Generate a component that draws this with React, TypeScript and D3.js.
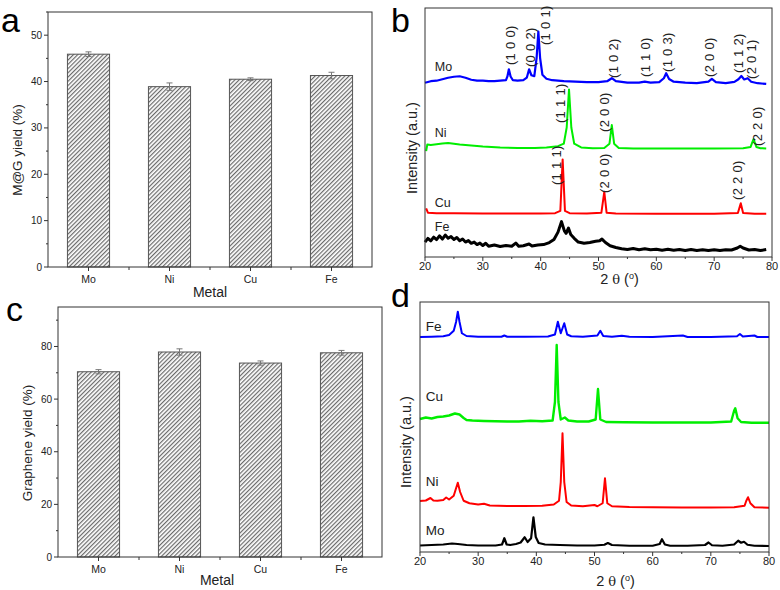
import React from 'react';
import * as d3 from 'd3';

// ---------- data ----------
const metals = ['Mo', 'Ni', 'Cu', 'Fe'];
const mgYield = [45.9, 38.9, 40.5, 41.3];
const mgErr = [0.5, 0.8, 0.3, 0.7];
const grYield = [70.4, 77.9, 73.7, 77.6];
const grErr = [0.8, 1.2, 0.8, 0.9];
const mgTicks = [0, 10, 20, 30, 40, 50];
const grTicks = [0, 20, 40, 60, 80];
const thetaTicks = [20, 30, 40, 50, 60, 70, 80];

// panel b: XRD of M@G (2theta, intensity a.u.)
const bMo = [[20, 70.0], [21, 70.6], [22, 70.8], [23, 71.4], [24, 72.0], [25, 72.4], [26, 72.6], [27, 72.0], [28, 71.2], [29, 70.8], [30, 70.8], [31, 70.6], [32, 70.6], [33, 70.8], [34, 71.0], [34.25, 72.5], [34.5, 75.4], [34.8, 72.5], [35.2, 71.0], [36, 70.8], [37, 71.0], [37.6, 72.0], [38.0, 75.4], [38.4, 73.0], [38.9, 72.6], [39.3, 80], [39.6, 90.5], [39.9, 80], [40.3, 73.2], [41, 71.6], [42, 71.0], [44, 70.6], [46, 70.4], [48, 70.2], [50, 70.2], [51.5, 70.6], [52.3, 71.8], [53, 70.6], [55, 70.0], [57, 70.0], [58, 70.4], [59, 70.0], [60.5, 70.2], [61.3, 71.8], [61.7, 73.8], [62.2, 71.5], [63, 70.4], [65, 70.0], [67, 69.8], [69, 70.4], [69.6, 71.5], [70.3, 70.2], [72, 69.8], [73.5, 70.3], [74.2, 71.4], [74.7, 72.7], [75.2, 71.3], [75.8, 71.8], [76.4, 70.4], [77.5, 69.8], [79, 69.5]];
const bNi = [[20.2, 42.5], [20.4, 45.2], [21, 45.0], [22, 45.3], [23, 45.6], [24, 45.8], [25, 45.5], [26, 45.2], [28, 44.8], [30, 44.4], [33, 44.0], [36, 43.8], [39, 43.8], [41, 44.0], [43, 44.5], [44, 45.5], [44.5, 52], [44.9, 67.3], [45.3, 52], [45.8, 45.5], [47, 44.0], [49, 43.7], [51, 43.8], [51.9, 45.5], [52.3, 53], [52.7, 45.5], [53.5, 43.8], [56, 43.6], [60, 43.6], [65, 43.6], [70, 43.6], [75, 43.7], [76.3, 44.2], [76.8, 47.3], [77.3, 44.2], [78, 43.7], [79, 43.6]];
const bCu = [[20.2, 19.5], [20.5, 17.8], [22, 17.6], [25, 17.6], [30, 17.5], [35, 17.5], [40, 17.5], [42.5, 17.6], [43.4, 18.5], [43.8, 39.2], [44.2, 18.5], [45, 17.6], [48, 17.5], [50.5, 17.8], [51.0, 26.2], [51.4, 17.8], [53, 17.5], [60, 17.4], [70, 17.4], [74.1, 17.7], [74.6, 21.6], [75.0, 17.7], [77, 17.4], [79, 17.4]];
const bFe = [[20, 6.0], [20.5, 7.5], [21, 6.5], [21.5, 8.0], [22, 7.0], [22.5, 8.5], [23, 7.2], [23.5, 8.8], [24, 7.5], [24.5, 8.2], [25, 7.0], [25.5, 7.8], [26, 6.5], [26.5, 7.2], [27, 6.0], [27.5, 6.6], [28, 5.5], [28.5, 6.0], [29, 5.0], [29.5, 5.6], [30, 4.6], [30.5, 5.5], [31, 4.3], [32, 4.8], [33, 4.2], [34, 4.6], [35, 4.3], [35.7, 5.6], [36.2, 4.3], [37, 4.5], [38, 5.2], [38.5, 4.4], [39.5, 4.8], [40.5, 5.0], [41.5, 5.8], [42.3, 7.0], [43.0, 10.0], [43.6, 14.2], [44.1, 10.5], [44.4, 9.5], [44.8, 11.6], [45.2, 9.0], [45.8, 7.5], [46.5, 6.0], [47.5, 5.5], [48.5, 5.8], [49.5, 6.3], [50.2, 6.5], [50.6, 7.2], [51.2, 5.8], [52, 4.5], [53, 3.8], [54, 3.3], [55, 3.0], [56, 3.4], [57, 2.9], [58, 3.3], [59, 2.9], [60, 3.1], [61, 2.7], [62, 3.1], [63, 2.7], [64, 3.0], [65, 2.6], [66, 3.0], [67, 2.6], [68, 2.9], [69, 2.6], [70, 2.9], [71, 2.6], [72, 2.9], [73, 2.8], [74, 3.6], [74.5, 4.3], [75, 3.6], [76, 2.8], [77, 3.0], [78, 2.6], [79, 3.0]];

// panel d: XRD of graphene
const dFe = [[20, 86.0], [22, 86.1], [24, 86.3], [25, 86.8], [25.8, 88.5], [26.2, 92], [26.5, 96.1], [26.8, 92], [27.2, 87.5], [28, 86.4], [30, 86.1], [34, 86.1], [34.5, 86.6], [35, 86.1], [38, 86.1], [42, 86.2], [43.2, 87.0], [43.7, 92.1], [44.2, 87.5], [44.8, 91.5], [45.3, 87.0], [46, 86.3], [48, 86.1], [50.5, 86.6], [51, 88.5], [51.5, 86.4], [53, 86.1], [54.7, 86.5], [56, 86.1], [60, 86.0], [65.2, 86.6], [66, 86.0], [70, 86.0], [74.5, 86.3], [75, 87.2], [75.5, 86.2], [77.5, 86.6], [78, 86.0], [80, 86.0]];
const dCu = [[20, 53.2], [21, 53.8], [22, 53.4], [23, 54.0], [24, 54.2], [25, 54.6], [26, 55.4], [26.8, 55.0], [27.5, 53.6], [28, 52.8], [29, 52.6], [31, 52.4], [33, 52.3], [35, 52.2], [37, 52.2], [39, 52.5], [41, 52.3], [42.8, 52.6], [43.2, 60], [43.5, 82.8], [43.8, 60], [44.2, 53.0], [44.9, 53.8], [45.5, 52.6], [47, 52.2], [49, 52.2], [50.2, 53.0], [50.6, 65.2], [51.0, 53.0], [52, 52.0], [55, 51.9], [60, 51.8], [65, 51.8], [70, 51.8], [73.5, 52.2], [74.0, 56.5], [74.2, 57.5], [74.6, 53.5], [75.2, 52.0], [77, 51.7], [80, 51.7]];
const dNi = [[20, 20.4], [21, 20.6], [21.8, 21.6], [22.3, 20.6], [23, 20.5], [24, 20.8], [24.5, 21.8], [25, 21.0], [25.8, 22.5], [26.2, 25.5], [26.5, 27.7], [26.9, 24], [27.5, 20.5], [28.5, 19.5], [30, 19.0], [31, 19.3], [32, 18.6], [35, 18.4], [38, 18.4], [41, 18.5], [43, 19.0], [43.9, 20.5], [44.2, 28], [44.5, 47.5], [44.8, 28], [45.2, 20.0], [46, 18.6], [48, 18.3], [50, 18.8], [50.5, 18.3], [51.4, 19.5], [51.8, 29.5], [52.2, 19.5], [53, 18.3], [56, 18.0], [60, 17.9], [65, 17.8], [70, 17.8], [74, 17.9], [75.8, 18.5], [76.1, 20.5], [76.4, 21.9], [76.8, 19.5], [77.5, 17.9], [80, 17.7]];
const dMo = [[20, 2.6], [22, 2.8], [24, 3.0], [25.5, 3.4], [26.5, 3.2], [28, 2.8], [30, 2.6], [33, 2.6], [34.1, 3.0], [34.5, 5.5], [34.9, 3.0], [35.5, 2.8], [36.5, 3.2], [37.3, 3.8], [38, 5.9], [38.5, 4.0], [39.1, 5.5], [39.5, 13.9], [39.9, 6.0], [40.4, 3.6], [41.5, 3.0], [44, 2.8], [47, 2.6], [50, 2.6], [51.7, 2.9], [52.3, 3.6], [53, 2.8], [56, 2.5], [60, 2.5], [61.2, 3.2], [61.6, 5.1], [62.1, 3.0], [63, 2.5], [66, 2.5], [69, 2.8], [69.6, 3.8], [70.2, 2.7], [72, 2.5], [74, 3.0], [74.7, 4.5], [75.2, 3.7], [75.7, 4.1], [76.3, 2.9], [77.5, 2.5], [80, 2.4]];

// Miller index annotations for panel b: [text, 2theta, intensity at text start]
const millerB: [string, number, number][] = [
  ['(1 0 0)', 34.8, 77.1], ['(0 0 2)', 38.3, 76.3], ['(1 0 1)', 40.8, 85.1],
  ['(1 0 2)', 52.5, 71.9], ['(1 1 0)', 58.1, 72.3], ['(1 0 3)', 62.0, 74.3],
  ['(2 0 0)', 69.1, 72.3], ['(1 1 2)', 74.2, 73.9], ['(2 0 1)', 76.4, 71.5],
  ['(1 1 1)', 43.4, 53.8], ['(2 0 0)', 51.1, 50.2], ['(2 2 0)', 77.4, 44.6],
  ['(1 1 1)', 42.7, 28.9], ['(2 0 0)', 51.1, 25.7], ['(2 2 0)', 74.0, 22.9],
];
const traceLabelsB: [string, number, number][] = [['Mo', 21.7, 76.3], ['Ni', 21.7, 49.8], ['Cu', 21.7, 21.7], ['Fe', 21.7, 12.0]];
const traceLabelsD: [string, number, number][] = [['Fe', 21.0, 90.1], ['Cu', 21.0, 62.4], ['Ni', 21.0, 28.1], ['Mo', 21.0, 8.5]];

const FONT = "'Liberation Sans', Arial, Helvetica, sans-serif";

type Box = { l: number; r: number; t: number; b: number };

function BarPanel(p: Box & {
  values: number[]; errs: number[]; yMax: number; ticks: number[]; minor: number;
  yLabel: string; yLabelX: number; yLabelY: number; xLabelX: number; xLabelY: number;
}) {
  const x = d3.scaleBand<string>().domain(metals).range([p.l, p.r]).paddingInner(0.48).paddingOuter(0.24);
  const y = d3.scaleLinear().domain([0, p.yMax]).range([p.b, p.t]);
  const minorTicks = d3.range(0, p.yMax + 1e-6, p.minor).filter(v => !p.ticks.includes(v));
  const step = x.step();
  const bounds = d3.range(1, metals.length).map(i => p.l + i * step);
  return (
    <g>
      {metals.map((m, i) => {
        const x0 = x(m)!;
        const w = x.bandwidth();
        const yv = y(p.values[i]);
        const cx = x0 + w / 2;
        const e0 = y(p.values[i] - p.errs[i]);
        const e1 = y(p.values[i] + p.errs[i]);
        return (
          <g key={m}>
            <rect x={x0} y={yv} width={w} height={p.b - yv} fill="url(#hatch)" stroke="#555" strokeWidth={1} />
            <g stroke="#777" strokeWidth={1}>
              <line x1={cx} x2={cx} y1={e0} y2={e1} />
              <line x1={cx - 3} x2={cx + 3} y1={e0} y2={e0} />
              <line x1={cx - 3} x2={cx + 3} y1={e1} y2={e1} />
            </g>
          </g>
        );
      })}
      <rect x={p.l} y={p.t} width={p.r - p.l} height={p.b - p.t} fill="none" stroke="#333" strokeWidth={1} />
      {p.ticks.map(v => (
        <g key={v}>
          <line x1={p.l - 4} x2={p.l} y1={y(v)} y2={y(v)} stroke="#333" />
          <text x={p.l - 6} y={y(v)} dy="0.35em" textAnchor="end" fontSize={10} fontFamily={FONT} fill="#222">{v}</text>
        </g>
      ))}
      {minorTicks.map(v => <line key={'m' + v} x1={p.l - 2} x2={p.l} y1={y(v)} y2={y(v)} stroke="#333" />)}
      {metals.map(m => {
        const cx = x(m)! + x.bandwidth() / 2;
        return (
          <g key={'t' + m}>
            <line x1={cx} x2={cx} y1={p.b} y2={p.b + 4} stroke="#333" />
            <text x={cx} y={p.b + 16} textAnchor="middle" fontSize={10.5} fontFamily={FONT} fill="#222">{m}</text>
          </g>
        );
      })}
      {bounds.map(bx => <line key={'b' + bx} x1={bx} x2={bx} y1={p.b} y2={p.b + 3} stroke="#333" />)}
      <text x={p.xLabelX} y={p.xLabelY} textAnchor="middle" fontSize={14} fontFamily={FONT} fill="#222">Metal</text>
      <text transform={`translate(${p.yLabelX},${p.yLabelY}) rotate(-90)`} textAnchor="middle" dy="0.35em" fontSize={13.5} fontFamily={FONT} fill="#222">{p.yLabel}</text>
    </g>
  );
}

function XrdPanel(p: Box & {
  traces: { data: number[][]; color: string; width: number }[];
  labels: [string, number, number][]; labelSize: number;
  miller?: [string, number, number][];
  yLabelX: number; yLabelY: number; xLabelY: number;
}) {
  const x = d3.scaleLinear().domain([20, 80]).range([p.l, p.r]);
  const y = d3.scaleLinear().domain([0, 100]).range([p.b, p.t]);
  const line = d3.line<number[]>().x(d => x(d[0])).y(d => y(d[1]));
  const minor = d3.range(25, 80, 10);
  return (
    <g>
      {p.traces.map((t, i) => (
        <path key={i} d={line(t.data) || ''} fill="none" stroke={t.color} strokeWidth={t.width} strokeLinejoin="round" />
      ))}
      <rect x={p.l} y={p.t} width={p.r - p.l} height={p.b - p.t} fill="none" stroke="#333" strokeWidth={1} />
      {thetaTicks.map(v => (
        <g key={v}>
          <line x1={x(v)} x2={x(v)} y1={p.b} y2={p.b + 4} stroke="#333" />
          <text x={x(v)} y={p.b + 13} textAnchor="middle" fontSize={11} fontFamily={FONT} fill="#222">{v}</text>
        </g>
      ))}
      {minor.map(v => <line key={'m' + v} x1={x(v)} x2={x(v)} y1={p.b} y2={p.b + 2} stroke="#333" />)}
      {p.labels.map(([s, a, b]) => (
        <text key={s} x={x(a)} y={y(b)} dy="0.35em" fontSize={p.labelSize} fontFamily={FONT} fill="#222">{s}</text>
      ))}
      {(p.miller || []).map(([s, a, b], i) => (
        <text key={i} transform={`translate(${x(a)},${y(b)}) rotate(-90)`} dy="0.35em" fontSize={13} fontFamily={FONT} fill="#222" letterSpacing={0.3}>{s}</text>
      ))}
      <text x={(p.l + p.r) / 2 + 21} y={p.xLabelY} textAnchor="middle" fontSize={14.5} fontFamily={FONT} fill="#222">
        2 <tspan fontFamily="'DejaVu Serif', serif" fontSize={13}>θ</tspan> (<tspan dy={-5} fontSize={9}>o</tspan><tspan dy={5}>)</tspan>
      </text>
      <text transform={`translate(${p.yLabelX},${p.yLabelY}) rotate(-90)`} textAnchor="middle" dy="0.35em" fontSize={14.5} fontFamily={FONT} fill="#222">Intensity (a.u.)</text>
    </g>
  );
}

export default function App() {
  return (
    <svg width={780} height={590} style={{ position: 'absolute', left: 0, top: 0, background: '#fff' }}>
      <defs>
        <pattern id="hatch" patternUnits="userSpaceOnUse" width={3} height={3} patternTransform="rotate(45)">
          <rect width={3} height={3} fill="#fff" />
          <line x1={0.5} y1={0} x2={0.5} y2={3} stroke="#6a6a6a" strokeWidth={1.4} />
        </pattern>
      </defs>
      <rect width={780} height={590} fill="#fff" />
      <BarPanel l={48} r={372} t={12} b={267} values={mgYield} errs={mgErr} yMax={55} ticks={mgTicks} minor={5}
        yLabel="M@G yield (%)" yLabelX={17} yLabelY={150} xLabelX={210} xLabelY={297} />
      <BarPanel l={58} r={382} t={307} b={557} values={grYield} errs={grErr} yMax={95} ticks={grTicks} minor={10}
        yLabel="Graphene yield (%)" yLabelX={27} yLabelY={443} xLabelX={217} xLabelY={585} />
      <XrdPanel l={425} r={772} t={8} b={257}
        traces={[{ data: bFe, color: '#000', width: 3 }, { data: bCu, color: '#ff0000', width: 2 }, { data: bNi, color: '#00ee00', width: 2 }, { data: bMo, color: '#0000ff', width: 2.2 }]}
        labels={traceLabelsB} labelSize={12.5} miller={millerB} yLabelX={412} yLabelY={148} xLabelY={284} />
      <XrdPanel l={420} r={769} t={302} b={552}
        traces={[{ data: dMo, color: '#000', width: 2.2 }, { data: dNi, color: '#ff0000', width: 2 }, { data: dCu, color: '#00ee00', width: 2.4 }, { data: dFe, color: '#0000ff', width: 2 }]}
        labels={traceLabelsD} labelSize={13.5} yLabelX={406} yLabelY={442} xLabelY={586} />
      <g fontFamily={FONT} fontSize={34} fill="#000">
        <text x={1} y={32}>a</text>
        <text x={391} y={32}>b</text>
        <text x={6} y={321}>c</text>
        <text x={391} y={307}>d</text>
      </g>
    </svg>
  );
}
